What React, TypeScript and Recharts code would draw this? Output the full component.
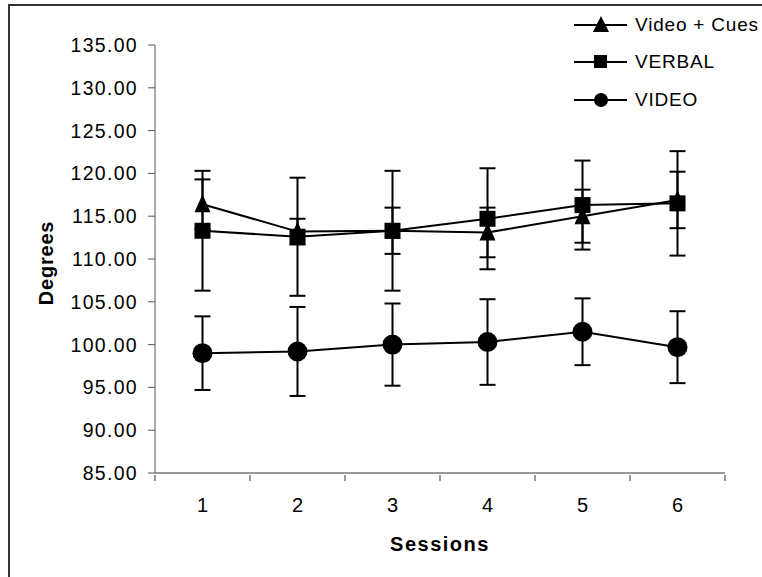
import { LineChart, Line, XAxis, YAxis, ErrorBar, Legend, Label } from "recharts";

const FONT = "'Liberation Sans', Arial, sans-serif";

const sessions = [1, 2, 3, 4, 5, 6];
const videoCues = [116.4, 113.2, 113.3, 113.1, 115.0, 116.9];
const videoCuesErr = [2.9, 1.5, 2.7, 2.9, 3.1, 3.3];
const verbal = [113.3, 112.6, 113.3, 114.7, 116.3, 116.5];
const verbalErr = [7.0, 6.9, 7.0, 5.9, 5.2, 6.1];
const video = [99.0, 99.2, 100.0, 100.3, 101.5, 99.7];
const videoErr = [4.3, 5.2, 4.8, 5.0, 3.9, 4.2];

const xTicks = [0.5, 1, 1.5, 2, 2.5, 3, 3.5, 4, 4.5, 5, 5.5, 6, 6.5];
const yTicks = [85, 90, 95, 100, 105, 110, 115, 120, 125, 130, 135];

const seriesNames = ["Video + Cues", "VERBAL", "VIDEO"];

const data = sessions.map((s, i) => ({
  session: s,
  cues: videoCues[i],
  cuesErr: videoCuesErr[i],
  verbal: verbal[i],
  verbalErr: verbalErr[i],
  video: video[i],
  videoErr: videoErr[i],
}));

function TriangleDot({ cx, cy }: any) {
  if (cx == null || cy == null) return null;
  return <polygon points={`${cx},${cy - 10} ${cx - 8},${cy + 8} ${cx + 8},${cy + 8}`} fill="#000" />;
}

function SquareDot({ cx, cy }: any) {
  if (cx == null || cy == null) return null;
  return <rect x={cx - 8} y={cy - 8} width={16} height={16} fill="#000" />;
}

function CircleDot({ cx, cy }: any) {
  if (cx == null || cy == null) return null;
  return <circle cx={cx} cy={cy} r={10} fill="#000" />;
}

function SessionTick({ x, y, payload }: any) {
  if (Number.isInteger(payload.value)) {
    return (
      <text x={x} y={y + 24} textAnchor="middle" dominantBaseline="central"
        fontFamily={FONT} fontSize={20} fill="#000">
        {payload.value}
      </text>
    );
  }
  return <line x1={x} x2={x} y1={y - 6} y2={y} stroke="#333" />;
}

function LegendBox() {
  const icons = [
    <polygon points="27,1 19,17 35,17" fill="#000" />,
    <rect x={20} y={3} width={13} height={13} fill="#000" />,
    <circle cx={27} cy={10} r={7} fill="#000" />,
  ];
  return (
    <div style={{ fontFamily: FONT, fontSize: 19, letterSpacing: 0.8 }}>
      {seriesNames.map((name, i) => (
        <div key={name} style={{ display: "flex", alignItems: "center", height: 37.5, whiteSpace: "nowrap" }}>
          <svg width={61} height={20}>
            <line x1={0} x2={53} y1={10} y2={10} stroke="#000" strokeWidth={2} />
            {icons[i]}
          </svg>
          <span>{name}</span>
        </div>
      ))}
    </div>
  );
}

export default function App() {
  return (
    <div style={{ position: "absolute", left: 0, top: 0, width: 762, height: 577, overflow: "hidden", background: "#fff" }}>
      <div style={{ position: "absolute", left: 8, top: 4, width: 800, height: 600, borderTop: "2px solid #333", borderLeft: "2px solid #333" }} />
      <LineChart width={762} height={577} data={data}
        margin={{ top: 45, right: 37, bottom: 44, left: 75 }}>
        <XAxis dataKey="session" type="number" domain={[0.5, 6.5]} ticks={xTicks} interval={0}
          height={60} tickSize={6} tickLine={false} tick={<SessionTick />}
          axisLine={{ stroke: "#333" }}>
          <Label value="Sessions" position="bottom" offset={4}
            style={{ fontFamily: FONT, fontSize: 20, fontWeight: "bold", fill: "#000", letterSpacing: 1.5 }} />
        </XAxis>
        <YAxis domain={[85, 135]} ticks={yTicks} interval={0} width={80}
          tickSize={7} tickMargin={10} tickFormatter={(v: number) => v.toFixed(2)}
          tick={{ fontFamily: FONT, fontSize: 19.5, fill: "#000", letterSpacing: 1.3 }}
          axisLine={{ stroke: "#555" }} tickLine={{ stroke: "#555" }}>
          <Label content={({ viewBox }: any) => (
            <text x={viewBox.x - 29} y={viewBox.y + viewBox.height / 2 + 4}
              transform={`rotate(-90, ${viewBox.x - 29}, ${viewBox.y + viewBox.height / 2 + 4})`}
              textAnchor="middle" dominantBaseline="central" letterSpacing={0.8}
              fontFamily={FONT} fontSize={20} fontWeight="bold" fill="#000">
              Degrees
            </text>
          )} />
        </YAxis>
        <Legend layout="horizontal" verticalAlign="middle" content={<LegendBox />}
          wrapperStyle={{ position: "absolute", left: 574, top: 6, width: 300 }} />
        <Line dataKey="video" name="VIDEO" stroke="#000" strokeWidth={2} dot={<CircleDot />} isAnimationActive={false}>
          <ErrorBar dataKey="videoErr" width={8} stroke="#000" strokeWidth={2} direction="y" />
        </Line>
        <Line dataKey="verbal" name="VERBAL" stroke="#000" strokeWidth={2} dot={<SquareDot />} isAnimationActive={false}>
          <ErrorBar dataKey="verbalErr" width={8} stroke="#000" strokeWidth={2} direction="y" />
        </Line>
        <Line dataKey="cues" name="Video + Cues" stroke="#000" strokeWidth={2} dot={<TriangleDot />} isAnimationActive={false}>
          <ErrorBar dataKey="cuesErr" width={8} stroke="#000" strokeWidth={2} direction="y" />
        </Line>
      </LineChart>
    </div>
  );
}
